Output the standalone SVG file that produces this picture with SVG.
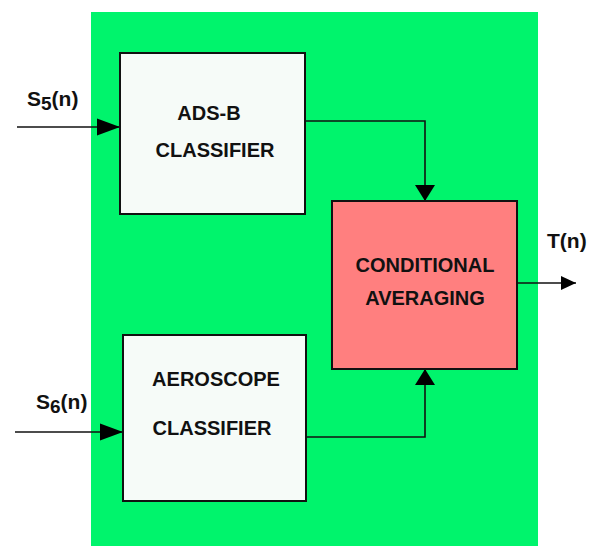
<svg xmlns="http://www.w3.org/2000/svg" width="592" height="546" viewBox="0 0 592 546">
<defs>
<style>
.bg{fill:#00F46C}
.box{fill:#F6FBF8;stroke:#111;stroke-width:2}
.avg{fill:#FF7F7F;stroke:#111;stroke-width:2}
.lbl{font-family:"Liberation Sans",Arial,sans-serif;font-weight:bold;font-size:20px;fill:#111;text-anchor:middle}
.sig{font-family:"Liberation Sans",Arial,sans-serif;font-weight:bold;font-size:21px;fill:#111}
.wire{fill:none;stroke:#111;stroke-width:1.6}
</style>
<marker id="ah" markerUnits="userSpaceOnUse" markerWidth="24" markerHeight="18" viewBox="0 0 24 18" refX="23" refY="9" orient="auto">
<path d="M0,0.5 L23,9 L0,17.5 Z" fill="#000"/>
</marker>
<marker id="ahv" markerUnits="userSpaceOnUse" markerWidth="17" markerHeight="20" viewBox="0 0 17 20" refX="16" refY="10" orient="auto">
<path d="M0,0 L16,10 L0,20 Z" fill="#000"/>
</marker>
<marker id="ahs" markerUnits="userSpaceOnUse" markerWidth="16" markerHeight="16" viewBox="0 0 16 16" refX="15" refY="8" orient="auto">
<path d="M0,1 L15,8 L0,15 Z" fill="#000"/>
</marker>
</defs>
<rect class="bg" x="91" y="12" width="447" height="534"/>
<g id="connectors">
<path class="wire" d="M17,127 L120,127" marker-end="url(#ah)"/>
<path class="wire" d="M15,432 L123,432" marker-end="url(#ah)"/>
<path class="wire" d="M305,121 L425,121 L425,201" marker-end="url(#ahv)"/>
<path class="wire" d="M306,437 L425,437 L425,369" marker-end="url(#ahv)"/>
<path class="wire" d="M517,283 L576,283" marker-end="url(#ahs)"/>
</g>
<g id="adsb">
<rect class="box" x="120" y="53" width="185" height="161"/>
<text class="lbl" x="209" y="120">ADS-B</text>
<text class="lbl" x="215" y="157">CLASSIFIER</text>
</g>
<g id="aeroscope">
<rect class="box" x="123" y="335" width="183" height="166"/>
<text class="lbl" x="216" y="386">AEROSCOPE</text>
<text class="lbl" x="212" y="435">CLASSIFIER</text>
</g>
<g id="averaging">
<rect class="avg" x="332" y="201" width="185" height="168"/>
<text class="lbl" x="425" y="272">CONDITIONAL</text>
<text class="lbl" x="425" y="305">AVERAGING</text>
</g>
<g id="labels">
<text class="sig" x="27" y="106">S<tspan font-size="19" dy="4">5</tspan><tspan dy="-4">(n)</tspan></text>
<text class="sig" x="36" y="409">S<tspan font-size="19" dy="4">6</tspan><tspan dy="-4">(n)</tspan></text>
<text class="sig" x="547" y="248">T(n)</text>
</g>
</svg>
